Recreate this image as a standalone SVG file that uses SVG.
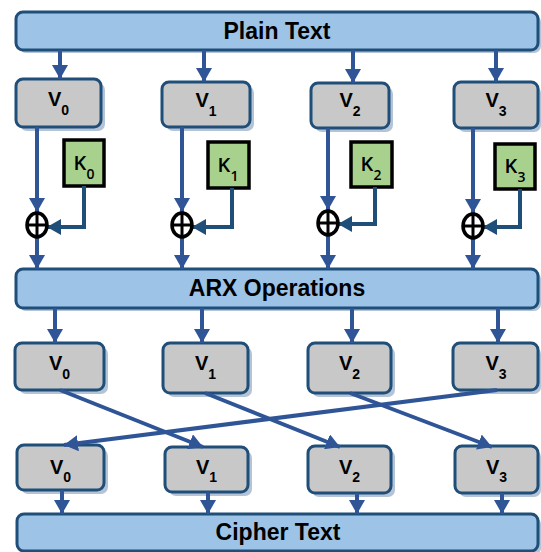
<svg xmlns="http://www.w3.org/2000/svg" width="541" height="552" viewBox="0 0 541 552">
<defs>
<style>
.bar{fill:#9DC3E6;stroke:#1F4E79;stroke-width:3}
.box{fill:#C8C8C8;stroke:#1F4E79;stroke-width:3}
.sh{fill:#B4C3D6;stroke:none}
.key{fill:#A9D18E;stroke:#000;stroke-width:3.5}
.t{font-family:"Liberation Sans",Arial,sans-serif;font-weight:bold;fill:#000}
.kt{font-family:"Open Sans","Liberation Sans",sans-serif;font-weight:600;fill:#000}
.a{stroke:#2F5597;stroke-width:4;fill:none;marker-end:url(#ah)}
.k{stroke:#1F4E79;stroke-width:4;fill:none;marker-end:url(#ahk)}
.x{fill:#fff;stroke:#000;stroke-width:3.5}
.xl{stroke:#000;stroke-width:3}
</style>
<marker id="ah" markerUnits="userSpaceOnUse" markerWidth="16" markerHeight="16" refX="14" refY="8" orient="auto"><path d="M0,0 L14,8 L0,16 z" fill="#2F5597"/></marker>
<marker id="ahk" markerUnits="userSpaceOnUse" markerWidth="16" markerHeight="16" refX="14" refY="8" orient="auto"><path d="M0,0 L14,8 L0,16 z" fill="#1F4E79"/></marker>
</defs>

<g id="plain">
<rect class="sh" x="19" y="15" width="522" height="38" rx="7"/>
<rect class="bar" x="16" y="12" width="522" height="38" rx="7"/>
<text class="t" x="277" y="39" font-size="23" text-anchor="middle">Plain Text</text>
</g>

<g id="v0a"><rect class="sh" x="20" y="83" width="85" height="48" rx="7"/><rect class="box" x="16" y="79" width="85" height="48" rx="7"/><text class="t" x="58.5" y="106" font-size="20" text-anchor="middle">V<tspan dy="9" font-size="14">0</tspan></text></g>
<g id="v1a"><rect class="sh" x="166" y="86" width="88" height="45" rx="7"/><rect class="box" x="162" y="82" width="88" height="45" rx="7"/><text class="t" x="206" y="107" font-size="20" text-anchor="middle">V<tspan dy="9" font-size="14">1</tspan></text></g>
<g id="v2a"><rect class="sh" x="315" y="87" width="78" height="45" rx="7"/><rect class="box" x="311" y="83" width="78" height="45" rx="7"/><text class="t" x="350" y="107" font-size="20" text-anchor="middle">V<tspan dy="9" font-size="14">2</tspan></text></g>
<g id="v3a"><rect class="sh" x="458" y="86" width="83" height="46" rx="7"/><rect class="box" x="454" y="82" width="84" height="46" rx="7"/><text class="t" x="496" y="107" font-size="20" text-anchor="middle">V<tspan dy="9" font-size="14">3</tspan></text></g>

<g id="k0"><rect class="key" x="64" y="140" width="40" height="46"/><text class="kt" x="84" y="170" font-size="20" text-anchor="middle">K<tspan dy="9" font-size="14">0</tspan></text></g>
<g id="k1"><rect class="key" x="208" y="142" width="41" height="46"/><text class="kt" x="228" y="172" font-size="20" text-anchor="middle">K<tspan dy="9" font-size="14">1</tspan></text></g>
<g id="k2"><rect class="key" x="351" y="142" width="41" height="45"/><text class="kt" x="371" y="171" font-size="20" text-anchor="middle">K<tspan dy="9" font-size="14">2</tspan></text></g>
<g id="k3"><rect class="key" x="495" y="144" width="40" height="45"/><text class="kt" x="515" y="173" font-size="20" text-anchor="middle">K<tspan dy="9" font-size="14">3</tspan></text></g>

<g id="arx">
<rect class="sh" x="19" y="272" width="522" height="39" rx="7"/>
<rect class="bar" x="16" y="269" width="522" height="39" rx="7"/>
<text class="t" x="277" y="296" font-size="23" text-anchor="middle">ARX Operations</text>
</g>

<g id="v0b"><rect class="sh" x="19" y="347" width="89" height="47" rx="7"/><rect class="box" x="15" y="343" width="89" height="47" rx="7"/><text class="t" x="59.5" y="370" font-size="20" text-anchor="middle">V<tspan dy="9" font-size="14">0</tspan></text></g>
<g id="v1b"><rect class="sh" x="167" y="347" width="85" height="50" rx="7"/><rect class="box" x="163" y="343" width="85" height="50" rx="7"/><text class="t" x="205.5" y="370" font-size="20" text-anchor="middle">V<tspan dy="9" font-size="14">1</tspan></text></g>
<g id="v2b"><rect class="sh" x="312" y="347" width="83" height="50" rx="7"/><rect class="box" x="308" y="343" width="83" height="50" rx="7"/><text class="t" x="349.5" y="370" font-size="20" text-anchor="middle">V<tspan dy="9" font-size="14">2</tspan></text></g>
<g id="v3b"><rect class="sh" x="457" y="347" width="84" height="47" rx="7"/><rect class="box" x="453" y="343" width="85" height="47" rx="7"/><text class="t" x="496" y="370" font-size="20" text-anchor="middle">V<tspan dy="9" font-size="14">3</tspan></text></g>

<g id="v0c"><rect class="sh" x="21" y="449" width="87" height="45" rx="7"/><rect class="box" x="17" y="445" width="87" height="45" rx="7"/><text class="t" x="60.5" y="474" font-size="20" text-anchor="middle">V<tspan dy="8" font-size="14">0</tspan></text></g>
<g id="v1c"><rect class="sh" x="169" y="451" width="83" height="45" rx="7"/><rect class="box" x="165" y="447" width="83" height="45" rx="7"/><text class="t" x="206.5" y="474" font-size="20" text-anchor="middle">V<tspan dy="8" font-size="14">1</tspan></text></g>
<g id="v2c"><rect class="sh" x="312" y="450" width="83" height="47" rx="7"/><rect class="box" x="308" y="446" width="83" height="47" rx="7"/><text class="t" x="349.5" y="474" font-size="20" text-anchor="middle">V<tspan dy="8" font-size="14">2</tspan></text></g>
<g id="v3c"><rect class="sh" x="459" y="450" width="82" height="47" rx="7"/><rect class="box" x="455" y="446" width="83" height="47" rx="7"/><text class="t" x="496.5" y="474" font-size="20" text-anchor="middle">V<tspan dy="8" font-size="14">3</tspan></text></g>

<g id="cipher">
<rect class="sh" x="20" y="517" width="521" height="38" rx="7"/>
<rect class="bar" x="17" y="514" width="521" height="37" rx="7"/>
<text class="t" x="278" y="540" font-size="23" text-anchor="middle">Cipher Text</text>
</g>

<g id="connectors">
<path class="a" d="M60,50 V79"/>
<path class="a" d="M204,50 V82"/>
<path class="a" d="M353,50 V83"/>
<path class="a" d="M496,50 V82"/>

<path class="a" d="M37,127 V212"/>
<path class="a" d="M182,127 V212"/>
<path class="a" d="M328,128 V210"/>
<path class="a" d="M473,128 V213"/>

<path class="k" d="M84,186 V227 H47"/>
<path class="k" d="M232,188 V227 H192"/>
<path class="k" d="M375,187 V224 H338"/>
<path class="k" d="M520,189 V227 H483"/>

<path class="a" d="M37,237 V269"/>
<path class="a" d="M182,237 V269"/>
<path class="a" d="M328,235 V269"/>
<path class="a" d="M473,238 V269"/>

<path class="a" d="M55,308 V343"/>
<path class="a" d="M202,308 V343"/>
<path class="a" d="M352,308 V343"/>
<path class="a" d="M498,308 V343"/>

<path class="a" d="M60,390 L203,447"/>
<path class="a" d="M205,393 L340,447"/>
<path class="a" d="M350,393 L492,447"/>
<path class="a" d="M497,390 L64,445"/>

<path class="a" d="M62,490 V514"/>
<path class="a" d="M208,492 V514"/>
<path class="a" d="M357,493 V514"/>
<path class="a" d="M502,493 V514"/>

<g id="xor0"><ellipse class="x" cx="37" cy="225" rx="10" ry="12"/><path class="xl" d="M27,225 H47 M37,213 V237"/></g>
<g id="xor1"><ellipse class="x" cx="182" cy="225" rx="10" ry="12"/><path class="xl" d="M172,225 H192 M182,213 V237"/></g>
<g id="xor2"><ellipse class="x" cx="328" cy="223" rx="10" ry="12"/><path class="xl" d="M318,223 H338 M328,211 V235"/></g>
<g id="xor3"><ellipse class="x" cx="473" cy="226" rx="10" ry="12"/><path class="xl" d="M463,226 H483 M473,214 V238"/></g>
</g>
</svg>
